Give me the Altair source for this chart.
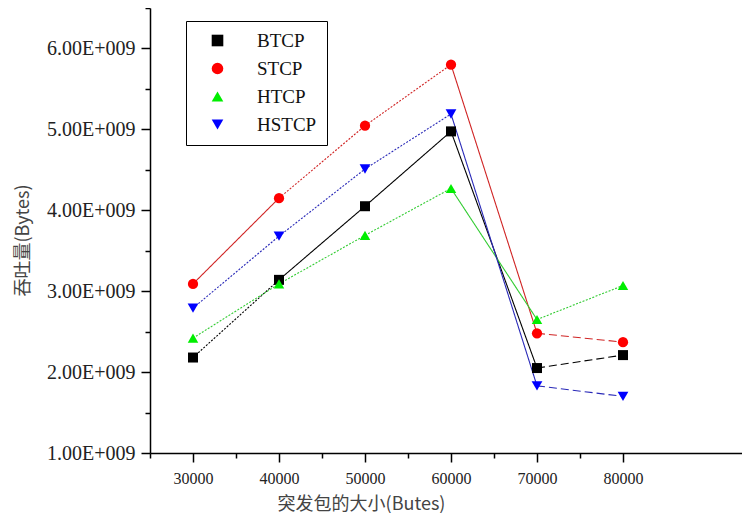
import altair as alt
import pandas as pd

# ---- data ----
burst_sizes = [30000, 40000, 50000, 60000, 70000, 80000]
series_names = ["BTCP", "STCP", "HTCP", "HSTCP"]
btcp = [2.18e9, 3.14e9, 4.05e9, 4.975e9, 2.05e9, 2.21e9]
stcp = [3.09e9, 4.15e9, 5.045e9, 5.80e9, 2.48e9, 2.37e9]
htcp = [2.42e9, 3.09e9, 3.69e9, 4.27e9, 2.65e9, 3.07e9]
hstcp = [2.79e9, 3.68e9, 4.51e9, 5.19e9, 1.83e9, 1.70e9]

# segment line styles (between consecutive points)
seg_styles = {
    "BTCP": ["dotted", "solid", "solid", "solid", "dashed"],
    "STCP": ["solid", "dotted", "dotted", "solid", "dashed"],
    "HTCP": ["dotted", "dotted", "dotted", "solid", "dotted"],
    "HSTCP": ["dotted", "dotted", "dotted", "solid", "dashed"],
}

marker_colors = ["#000000", "#ff0000", "#00ee00", "#0000ff"]
line_colors = ["#000000", "#d02525", "#33cc33", "#2a2ab8"]
shapes = ["square", "circle", "triangle-up", "triangle-down"]
marker_sizes = [100, 115, 165, 165]

SERIF = "Times New Roman, Liberation Serif, DejaVu Serif, serif"

values = {"BTCP": btcp, "STCP": stcp, "HTCP": htcp, "HSTCP": hstcp}
line_keys = ["line " + s for s in series_names]
size_keys = ["size " + s for s in series_names]

pts = pd.DataFrame(
    [{"series": s, "size_key": "size " + s, "x": x, "y": v}
     for s in series_names for x, v in zip(burst_sizes, values[s])]
)

seg_rows = []
for s in series_names:
    ys = values[s]
    for i in range(len(burst_sizes) - 1):
        sid = f"{s}_{i}"
        for j in (i, i + 1):
            seg_rows.append({"seg": sid, "line_series": "line " + s, "style": seg_styles[s][i],
                             "x": burst_sizes[j], "y": ys[j]})
segs = pd.DataFrame(seg_rows)

x_ticks = [25000, 30000, 35000, 40000, 45000, 50000, 55000, 60000, 65000, 70000, 75000, 80000]
y_ticks = [1e9, 1.5e9, 2e9, 2.5e9, 3e9, 3.5e9, 4e9, 4.5e9, 5e9, 5.5e9, 6e9, 6.5e9]

x_scale = alt.Scale(domain=[25000, 93837], nice=False, zero=False)
y_scale = alt.Scale(domain=[1e9, 6.5e9], nice=False, zero=False)

x_axis = alt.Axis(
    values=x_ticks,
    grid=False,
    tickSize={"condition": {"test": "datum.value % 10000 === 0", "value": 9}, "value": 5},
    labelExpr="datum.value % 10000 === 0 ? datum.label : ''",
    format="d",
    labelFlush=False, labelOverlap=False,
    title="突发包的大小(Butes)",
    titleX=211, titleY=51, titleBaseline="middle", titleAlign="center",
)

y_axis = alt.Axis(
    values=y_ticks,
    grid=False,
    tickSize={"condition": {"test": "datum.value % 1000000000 === 0", "value": 9}, "value": 5},
    labelExpr="datum.value % 1000000000 === 0 ? format(datum.value / 1e9, '.2f') + 'E+009' : ''",
    labelFlush=False, labelOverlap=False,
    title="吞吐量(Bytes)",
    titleX=-127, titleY=232, titleBaseline="middle", titleAlign="center",
    titleAngle=270,
)

lines = alt.Chart(segs).mark_line(strokeWidth=1.1).encode(
    x=alt.X("x:Q", scale=x_scale, axis=x_axis),
    y=alt.Y("y:Q", scale=y_scale, axis=y_axis),
    detail="seg:N",
    stroke=alt.Stroke("line_series:N", scale=alt.Scale(domain=line_keys, range=line_colors), legend=None),
    strokeDash=alt.StrokeDash(
        "style:N",
        scale=alt.Scale(domain=["solid", "dotted", "dashed"], range=[[1, 0], [2, 1.5], [8, 4]]),
        legend=None,
    ),
)

legend = alt.Legend(
    orient="none", legendX=36, legendY=13, title=None,
    strokeColor="black", fillColor="white", padding=10, rowPadding=8,
    symbolOffset=12, labelOffset=30, symbolSize=135, symbolStrokeWidth=0,
    labelFont=SERIF, labelFontSize=19, labelColor="#111",
)

points = alt.Chart(pts).mark_point(filled=True, opacity=1).encode(
    x=alt.X("x:Q", scale=x_scale),
    y=alt.Y("y:Q", scale=y_scale),
    color=alt.Color("series:N", scale=alt.Scale(domain=series_names, range=marker_colors), legend=legend),
    shape=alt.Shape("series:N", scale=alt.Scale(domain=series_names, range=shapes), legend=legend),
    size=alt.Size("size_key:N", scale=alt.Scale(domain=size_keys, range=marker_sizes), legend=None),
)

chart = (
    alt.layer(lines, points)
    .properties(
        width=592, height=445,
        autosize=alt.AutoSizeParams(type="none"),
        padding={"left": 142, "top": 0, "right": 0, "bottom": 60},
        background="white",
    )
    .configure_view(stroke=None)
    .configure_axis(
        domainColor="black", domainWidth=1.5,
        tickColor="black", tickWidth=1.5,
        labelFont=SERIF, labelColor="#222",
        titleFont="Noto Sans CJK SC", titleFontSize=18, titleFontWeight="normal",
        titleColor="#444",
    )
    .configure_axisX(labelFontSize=16, labelPadding=8)
    .configure_axisY(labelFontSize=20, labelPadding=6)
)

chart.save("out.html", embed_options={"renderer": "svg", "actions": False})
